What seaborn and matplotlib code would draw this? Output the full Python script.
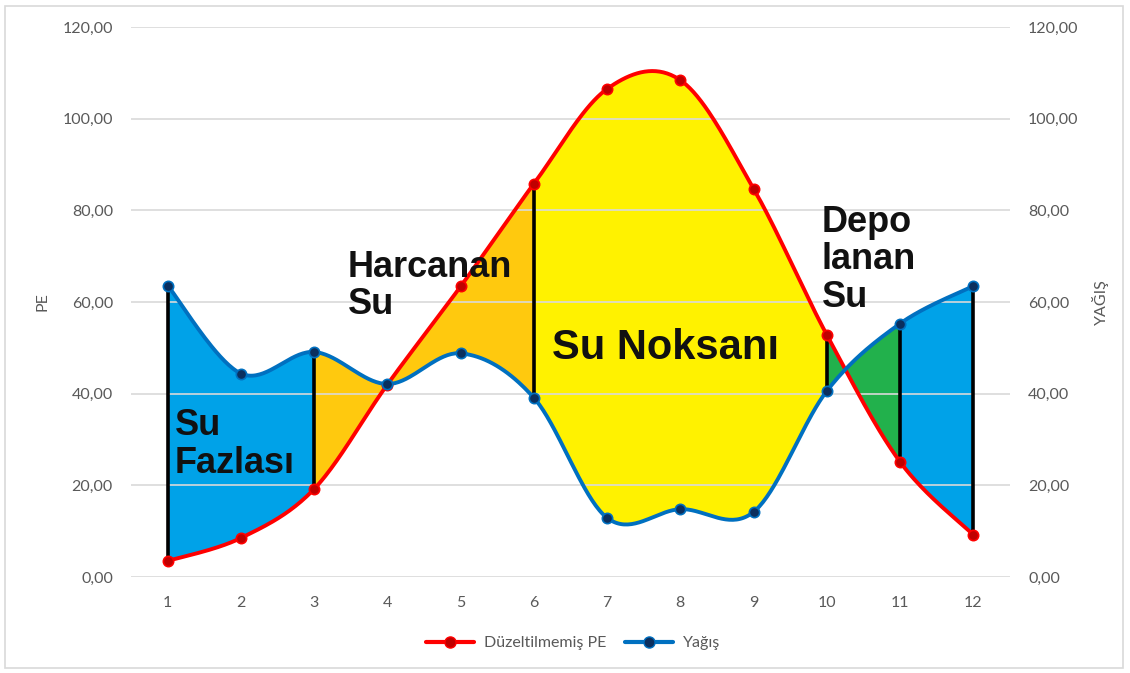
import numpy as np
import pandas as pd
import matplotlib
matplotlib.use("Agg")
import matplotlib.pyplot as plt
from matplotlib.lines import Line2D
from matplotlib.patches import Rectangle
import seaborn as sns

# ---- data ----
months = [1, 2, 3, 4, 5, 6, 7, 8, 9, 10, 11, 12]
pe = [3.5, 8.5, 19.2, 42.0, 63.4, 85.8, 106.5, 108.4, 84.7, 52.8, 25.1, 9.2]
yagis = [63.6, 44.4, 49.1, 42.1, 48.8, 39.1, 12.9, 14.8, 14.2, 40.6, 55.3, 63.5]
yticks = [0, 20, 40, 60, 80, 100, 120]
ytick_labels = ["0,00", "20,00", "40,00", "60,00", "80,00", "100,00", "120,00"]
series_names = ["Düzeltilmemiş PE", "Yağış"]
# regions between the curves: (start month, end month, colour)
regions = [(1, 3, "#00A2E8"), (3, 6, "#FFC90E"), (6, 10, "#FFF200"),
           (10, 11, "#22B14C"), (11, 12, "#00A2E8")]
divider_months = [1, 3, 6, 10, 11, 12]
# region labels: text, x (month), y (value), font size
labels = [("Su\nFazlası", 1.1, 28.9, 26), ("Harcanan\nSu", 3.46, 63.5, 26),
          ("Su Noksanı", 6.25, 50.0, 30), ("Depo\nlanan\nSu", 9.93, 69.2, 26)]

sns.set_theme(style="white")
plt.rcParams["font.family"] = ["Lato", "DejaVu Sans"]


def smooth(x, y, n=40):
    """Excel-style smoothed line (Catmull-Rom Bezier) sampled per segment."""
    x = np.asarray(x, float)
    y = np.asarray(y, float)
    P = np.column_stack([x, y])
    xs, ys, seg = [], [], []
    for i in range(len(P) - 1):
        p0 = P[i - 1] if i > 0 else P[i]
        p1, p2 = P[i], P[i + 1]
        p3 = P[i + 2] if i + 2 < len(P) else P[i + 1]
        c1 = p1 + (p2 - p0) / 6.0
        c2 = p2 - (p3 - p1) / 6.0
        t = np.linspace(0, 1, n)[:, None]
        b = ((1 - t) ** 3) * p1 + 3 * ((1 - t) ** 2) * t * c1 + 3 * (1 - t) * t ** 2 * c2 + t ** 3 * p2
        xs.append(b[:, 0]); ys.append(b[:, 1]); seg.append(np.full(n, i))
    return np.concatenate(xs), np.concatenate(ys), np.concatenate(seg)


fig = plt.figure(figsize=(11.3, 6.73), dpi=100)
ax = fig.add_axes([131 / 1130, 1 - 577 / 673, (1010 - 131) / 1130, (577 - 27) / 673])

sx, spe, seg = smooth(months, pe)
_, syg, _ = smooth(months, yagis)

# filled regions
for a, b, col in regions:
    m = (seg >= a - 1) & (seg < b - 1)
    ax.fill_between(sx[m], spe[m], syg[m], color=col, lw=0, zorder=1)

# vertical dividers
df = pd.DataFrame({"month": months, "pe": pe, "yagis": yagis})
for mth in divider_months:
    r = df[df.month == mth].iloc[0]
    ax.plot([mth, mth], [r.pe, r.yagis], color="black", lw=2.6, zorder=3, solid_capstyle="butt")

# smoothed lines
curve = pd.DataFrame({"x": sx, "pe": spe, "yagis": syg})
sns.lineplot(data=curve, x="x", y="pe", color="#FF0000", lw=2.8, sort=False, ax=ax, zorder=4)
sns.lineplot(data=curve, x="x", y="yagis", color="#0070C0", lw=2.8, sort=False, ax=ax, zorder=4)
# markers
sns.scatterplot(data=df, x="month", y="pe", color="#C00000", edgecolor="#FF0000",
                s=55, linewidth=1.2, ax=ax, zorder=5)
sns.scatterplot(data=df, x="month", y="yagis", color="#0B2F5E", edgecolor="#0070C0",
                s=55, linewidth=1.2, ax=ax, zorder=5)

for txt, xpos, ypos, fs in labels:
    ax.text(xpos, ypos, txt, fontsize=fs, fontweight="bold", family="Liberation Sans",
            color="#111111", zorder=6, linespacing=1.1, va="center", ha="left")

ax.set_xlim(0.5, 12.5)
ax.set_ylim(0, 120)
ax.set_xticks(months)
ax.set_xticklabels([str(m) for m in months])
ax.set_yticks(yticks)
ax.set_yticklabels(ytick_labels)
ax.set_axisbelow(False)
ax.grid(axis="y", color="#D9D9D9", lw=1.2)
ax.grid(axis="x", visible=False)
for s in ax.spines.values():
    s.set_visible(False)
ax.tick_params(axis="both", length=0, labelsize=11.5, labelcolor="#595959")
ax.tick_params(axis="y", pad=13)
ax.tick_params(axis="x", pad=14)
ax.set_xlabel("")
ax.set_ylabel("PE", fontsize=11.5, color="#595959", labelpad=9)

ax2 = ax.twinx()
ax2.set_ylim(0, 120)
ax2.set_yticks(yticks)
ax2.set_yticklabels(ytick_labels)
ax2.grid(False)
for s in ax2.spines.values():
    s.set_visible(False)
ax2.tick_params(axis="y", length=0, labelsize=11.5, labelcolor="#595959", pad=13)
ax2.set_ylabel("YAĞIŞ", fontsize=11.5, color="#595959", labelpad=10)

handles = [Line2D([0], [0], color="#FF0000", lw=3, marker="o", markersize=8,
                  markerfacecolor="#C00000", markeredgecolor="#FF0000"),
           Line2D([0], [0], color="#0070C0", lw=3, marker="o", markersize=8,
                  markerfacecolor="#0B2F5E", markeredgecolor="#0070C0")]
leg = fig.legend(handles, series_names, loc="center", bbox_to_anchor=(573 / 1130, 1 - 643 / 673),
                 ncol=2, frameon=False, fontsize=11.5, handlelength=3.0, columnspacing=1.2,
                 handletextpad=0.6)
for t in leg.get_texts():
    t.set_color("#595959")

fig.patches.append(Rectangle((5 / 1130, 5 / 673), 1118 / 1130, 662 / 673, transform=fig.transFigure,
                             fill=False, edgecolor="#D9D9D9", lw=1.2))

fig.savefig("out.png", dpi=100, facecolor="white")
